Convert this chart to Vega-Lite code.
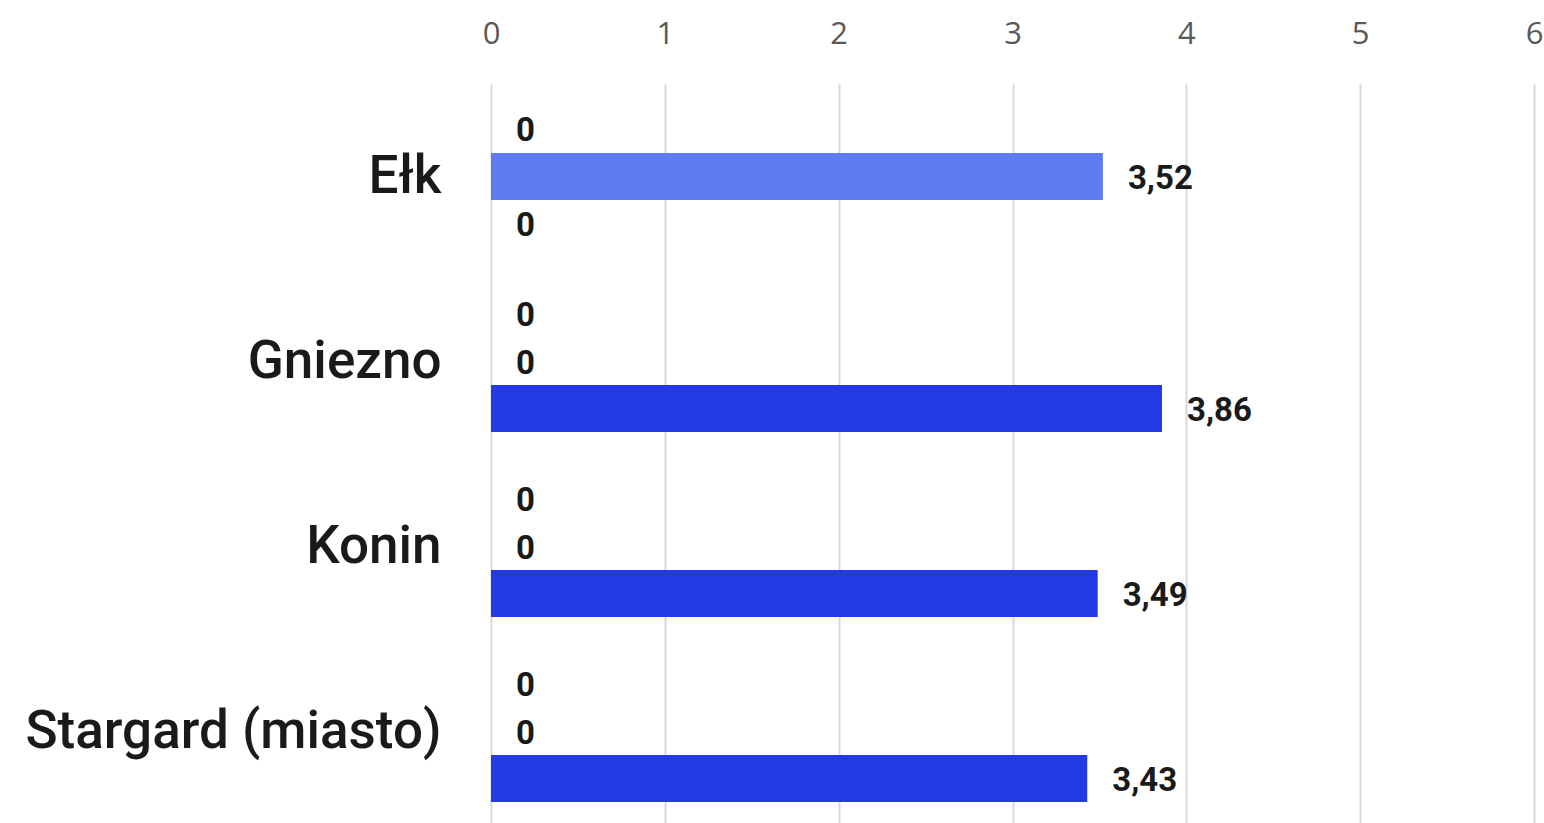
{
  "$schema": "https://vega.github.io/schema/vega-lite/v6.json",
  "autosize": {"type": "none"},
  "width": 1043,
  "height": 740,
  "padding": {"left": 491, "top": 84, "right": 10, "bottom": 0},
  "background": "#ffffff",
  "config": {
    "view": {"stroke": null},
    "locale": {"number": {"decimal": ",", "thousands": " ", "grouping": [3], "currency": ["", " zł"]}}
  },
  "data": {
    "values": [
      {"miasto": "Ełk", "seria": "A", "wartosc": 0},
      {"miasto": "Ełk", "seria": "B", "wartosc": 3.52},
      {"miasto": "Ełk", "seria": "C", "wartosc": 0},
      {"miasto": "Gniezno", "seria": "A", "wartosc": 0},
      {"miasto": "Gniezno", "seria": "B", "wartosc": 0},
      {"miasto": "Gniezno", "seria": "C", "wartosc": 3.86},
      {"miasto": "Konin", "seria": "A", "wartosc": 0},
      {"miasto": "Konin", "seria": "B", "wartosc": 0},
      {"miasto": "Konin", "seria": "C", "wartosc": 3.49},
      {"miasto": "Stargard (miasto)", "seria": "A", "wartosc": 0},
      {"miasto": "Stargard (miasto)", "seria": "B", "wartosc": 0},
      {"miasto": "Stargard (miasto)", "seria": "C", "wartosc": 3.43}
    ]
  },
  "encoding": {
    "y": {
      "field": "miasto", "type": "nominal", "sort": null,
      "scale": {"paddingInner": 0.237, "paddingOuter": 0.1185},
      "axis": {
        "title": null, "domain": false, "ticks": false, "tickSize": 0,
        "labelPadding": 50, "labelFontSize": 53, "labelFont": "Roboto",
        "labelFontWeight": 500, "labelColor": "#1a1a1a", "labelLimit": 600
      }
    },
    "yOffset": {"field": "seria", "type": "nominal", "scale": {"paddingInner": 0, "paddingOuter": 0}},
    "x": {
      "field": "wartosc", "type": "quantitative",
      "scale": {"domain": [0, 6], "nice": false},
      "axis": {
        "orient": "top", "title": null, "domain": false, "ticks": false, "tickSize": 0,
        "values": [0, 1, 2, 3, 4, 5, 6], "format": "d",
        "labelPadding": 34, "labelFontSize": 31, "labelFont": "Open Sans",
        "labelColor": "#595959", "labelFlush": false,
        "grid": true, "gridColor": "#d9d9d9", "gridWidth": 2
      }
    }
  },
  "layer": [
    {
      "mark": {"type": "bar"},
      "encoding": {
        "color": {
          "field": "seria", "type": "nominal", "legend": null,
          "scale": {"domain": ["A", "B", "C"], "range": ["#9aaaf5", "#5f7cf2", "#2339e3"]}
        }
      }
    },
    {
      "mark": {"type": "text", "align": "left", "baseline": "middle", "dx": 25, "dy": 2, "font": "Roboto", "fontWeight": "bold", "fontSize": 33, "color": "#1a1a1a"},
      "encoding": {
        "text": {"field": "wartosc", "type": "quantitative", "format": ".2~f"}
      }
    }
  ]
}
